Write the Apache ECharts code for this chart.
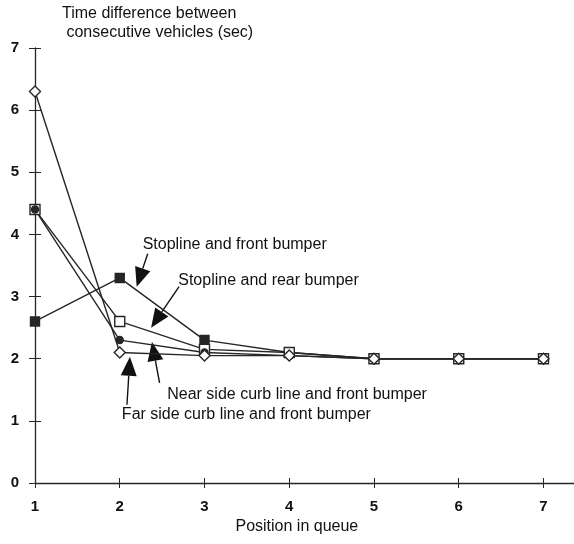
<!DOCTYPE html>
<html>
<head>
<meta charset="utf-8">
<script src="https://cdn.jsdelivr.net/npm/echarts@6/dist/echarts.min.js"></script>
<style>
  html, body { margin: 0; padding: 0; background: #fff; }
  #chart { width: 574px; height: 544px; }
</style>
</head>
<body>
<div id="chart"></div>
<script>
// Headway between consecutive vehicles by queue position
const positions = [1, 2, 3, 4, 5, 6, 7];
const stoplineFront = [2.6, 3.3, 2.3, 2.1, 2.0, 2.0, 2.0];
const stoplineRear = [4.4, 2.6, 2.15, 2.1, 2.0, 2.0, 2.0];
const nearSideCurb = [4.4, 2.3, 2.1, 2.05, 2.0, 2.0, 2.0];
const farSideCurb = [6.3, 2.1, 2.05, 2.05, 2.0, 2.0, 2.0];
const yTicks = [0, 1, 2, 3, 4, 5, 6, 7];

// Callout labels: text anchor and arrow (start -> tip), in data units
const callouts = [
  { text: 'Stopline and front bumper', at: [2.27, 3.83], from: [2.33, 3.69], to: [2.20, 3.16] },
  { text: 'Stopline and rear bumper', at: [2.69, 3.26], from: [2.70, 3.16], to: [2.37, 2.50] },
  { text: 'Near side curb line and front bumper', at: [2.56, 1.42], from: [2.47, 1.61], to: [2.38, 2.27] },
  { text: 'Far side curb line and front bumper', at: [2.025, 1.10], from: [2.085, 1.26], to: [2.12, 2.03] }
];

const INK = '#262626';
const FONT = '"Liberation Sans", Arial, sans-serif';

const pairs = arr => positions.map((p, i) => [p, arr[i]]);

const chart = echarts.init(document.getElementById('chart'), null, { renderer: 'canvas' });

const lineSeries = (name, data, symbol, size, fill) => ({
  name,
  type: 'line',
  data: pairs(data),
  symbol,
  symbolSize: size,
  showAllSymbol: true,
  lineStyle: { color: INK, width: 1.4 },
  itemStyle: { color: fill, borderColor: INK, borderWidth: 1.4 },
  emphasis: { disabled: true },
  animation: false
});

chart.setOption({
  backgroundColor: '#fff',
  animation: false,
  grid: { left: 35, right: 0, top: 48, bottom: 61, containLabel: false },
  xAxis: [
    {
      type: 'value', min: 1, max: 7.36, interval: 1,
      axisLine: { lineStyle: { color: INK, width: 1.3 } },
      axisTick: { show: true, length: 5, customValues: positions, lineStyle: { color: INK } },
      axisLabel: { customValues: positions, color: '#111', fontFamily: FONT, fontSize: 15, fontWeight: 'bold', margin: 16 },
      splitLine: { show: false }
    },
    {
      type: 'value', min: 1, max: 7.36, interval: 1, position: 'bottom',
      axisLine: { show: false },
      axisTick: { show: true, inside: true, length: 5, customValues: positions, lineStyle: { color: INK } },
      axisLabel: { show: false },
      splitLine: { show: false }
    }
  ],
  yAxis: [
    {
      type: 'value', min: 0, max: 7, interval: 1,
      axisLine: { show: true, lineStyle: { color: INK, width: 1.3 } },
      axisTick: { show: true, length: 6, lineStyle: { color: INK } },
      axisLabel: { color: '#111', fontFamily: FONT, fontSize: 15, fontWeight: 'bold', margin: 16,
        formatter: v => (yTicks.includes(v) ? String(v) : '') },
      splitLine: { show: false }
    },
    {
      type: 'value', min: 0, max: 7, interval: 1, position: 'left',
      axisLine: { show: false },
      axisTick: { show: true, inside: true, length: 6, lineStyle: { color: INK } },
      axisLabel: { show: false },
      splitLine: { show: false }
    }
  ],
  series: [
    lineSeries('Stopline and front bumper', stoplineFront, 'rect', 9, INK),
    lineSeries('Stopline and rear bumper', stoplineRear, 'rect', 10, '#fff'),
    lineSeries('Near side curb line and front bumper', nearSideCurb, 'circle', 7, INK),
    lineSeries('Far side curb line and front bumper', farSideCurb, 'diamond', 11, '#fff')
  ]
});

// Axis titles and arrowed callouts, placed through the chart's own coordinate system
function px(pt) { return chart.convertToPixel({ xAxisIndex: 0, yAxisIndex: 0 }, pt); }

const elements = [
  {
    type: 'text', left: 62, top: 4,
    style: { text: 'Time difference between\n consecutive vehicles (sec)', font: '16px ' + FONT, fill: '#111', lineHeight: 19 }
  }
];

const nameAnchor = px([4.09, 0]);
elements.push({
  type: 'text', x: nameAnchor[0], y: 527,
  style: { text: 'Position in queue', font: '16px ' + FONT, fill: '#111', align: 'center', verticalAlign: 'middle' }
});

callouts.forEach(c => {
  const t = px(c.at);
  elements.push({
    type: 'text', x: t[0], y: t[1],
    style: { text: c.text, font: '16px ' + FONT, fill: '#111', align: 'left', verticalAlign: 'middle' }
  });
  const a = px(c.from), b = px(c.to);
  const dx = b[0] - a[0], dy = b[1] - a[1];
  const len = Math.hypot(dx, dy);
  const ux = dx / len, uy = dy / len;
  const headLen = 19, headHalf = 8;
  const bx = b[0] - ux * headLen, by = b[1] - uy * headLen;
  elements.push({
    type: 'line',
    shape: { x1: a[0], y1: a[1], x2: bx, y2: by },
    style: { stroke: '#111', lineWidth: 1.4 }
  });
  elements.push({
    type: 'polygon',
    shape: { points: [[b[0], b[1]], [bx - uy * headHalf, by + ux * headHalf], [bx + uy * headHalf, by - ux * headHalf]] },
    style: { fill: '#111' }
  });
});

chart.setOption({ graphic: { elements } });
</script>
</body>
</html>
